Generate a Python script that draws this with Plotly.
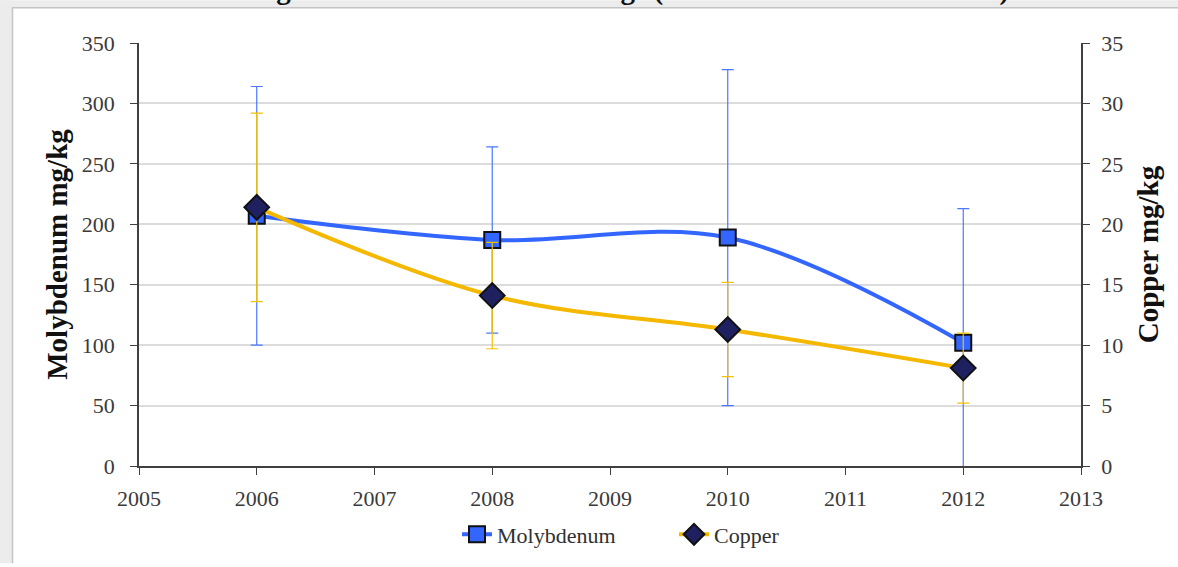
import plotly.graph_objects as go

years = [2006, 2008, 2010, 2012]
mo_values = [207, 187, 189, 102]
mo_errors = [107, 77, 139, 111]
cu_values = [21.4, 14.1, 11.3, 8.1]
cu_errors = [7.8, 4.4, 3.9, 2.9]

title_text = "Vegetation trends on Mo tailings (Standard error bars shown)"

W, H = 1178, 567
L, R, T, B = 139, 97, 43, 98
pw, ph = W - L - R, H - T - B

def px(xp):
    return (xp - L) / pw

def py(yp):
    return (H - B - yp) / ph

serif = "Liberation Serif, Times New Roman, serif"
tick_font = dict(family=serif, size=22, color="#3a3a3a")

fig = go.Figure()
fig.add_trace(go.Scatter(
    x=years, y=mo_values, name="Molybdenum", mode="lines+markers",
    line=dict(color="#3366ff", width=4, shape="spline", smoothing=1.0),
    marker=dict(symbol="square", size=16, color="#3366ff", line=dict(color="#111111", width=2)),
    error_y=dict(type="data", array=mo_errors, visible=True, color="#4a78ff", thickness=1.2, width=6),
    yaxis="y"))
fig.add_trace(go.Scatter(
    x=years, y=cu_values, name="Copper", mode="lines+markers",
    line=dict(color="#f5b800", width=4, shape="spline", smoothing=1.0),
    marker=dict(symbol="diamond", size=19, color="#1f2060", line=dict(color="#111111", width=2)),
    error_y=dict(type="data", array=cu_errors, visible=True, color="#f7c100", thickness=1.2, width=6),
    yaxis="y2"))

shapes = [
    dict(type="rect", xref="paper", yref="paper", x0=px(0), x1=px(W), y0=py(0), y1=py(7),
         fillcolor="#ececec", line=dict(width=0), layer="below"),
    dict(type="rect", xref="paper", yref="paper", x0=px(0), x1=px(12), y0=py(0), y1=py(H),
         fillcolor="#ececec", line=dict(width=0), layer="below"),
    dict(type="line", xref="paper", yref="paper", x0=px(12), x1=px(W), y0=py(7.5), y1=py(7.5),
         line=dict(color="#c4c4c4", width=1.5), layer="below"),
    dict(type="line", xref="paper", yref="paper", x0=px(12.5), x1=px(12.5), y0=py(7), y1=py(H),
         line=dict(color="#c4c4c4", width=1.5), layer="below"),
]

fig.update_layout(
    width=W, height=H,
    margin=dict(l=L, r=R, t=T, b=B),
    paper_bgcolor="white", plot_bgcolor="white",
    font=dict(family=serif, size=22, color="#3a3a3a"),
    showlegend=True,
    legend=dict(orientation="h", x=px(457), xanchor="left", y=py(538), yanchor="middle",
                font=dict(family=serif, size=22, color="#303030"),
                bgcolor="rgba(0,0,0,0)", entrywidth=172, entrywidthmode="pixels"),
    xaxis=dict(range=[2005, 2013], tickmode="array", tickvals=list(range(2005, 2014)),
               showgrid=False, zeroline=False, showline=True, linecolor="#404040", linewidth=1.5,
               ticks="outside", ticklen=7, tickcolor="#404040", tickfont=tick_font,
               ticklabelstandoff=5),
    yaxis=dict(range=[0, 350], dtick=50, showgrid=True, gridcolor="#dcdcdc", gridwidth=1.5,
               zeroline=False, showline=True, linecolor="#404040", linewidth=1.5,
               ticks="outside", ticklen=7, tickcolor="#404040", ticklabelstandoff=11,
               title=dict(text="<b>Molybdenum mg/kg</b>", font=dict(family=serif, size=29, color="#111111"),
                          standoff=6),
               tickfont=tick_font),
    yaxis2=dict(range=[0, 35], dtick=5, overlaying="y", side="right", showgrid=False,
                zeroline=False, showline=True, linecolor="#404040", linewidth=1.5,
                ticks="outside", ticklen=7, tickcolor="#404040", ticklabelstandoff=7,
                title=dict(text="<b>Copper mg/kg</b>", font=dict(family=serif, size=29, color="#111111"),
                           standoff=16),
                tickfont=tick_font),
    shapes=shapes,
    annotations=[dict(text="<b>" + title_text + "</b>", xref="paper", yref="paper",
                      x=px(627), y=py(8), xanchor="center", yanchor="bottom", showarrow=False,
                      font=dict(family=serif, size=29, color="#111111"))],
)

fig.write_html("out.html", config={"displayModeBar": False},
               post_script="document.body.style.margin='0';")
